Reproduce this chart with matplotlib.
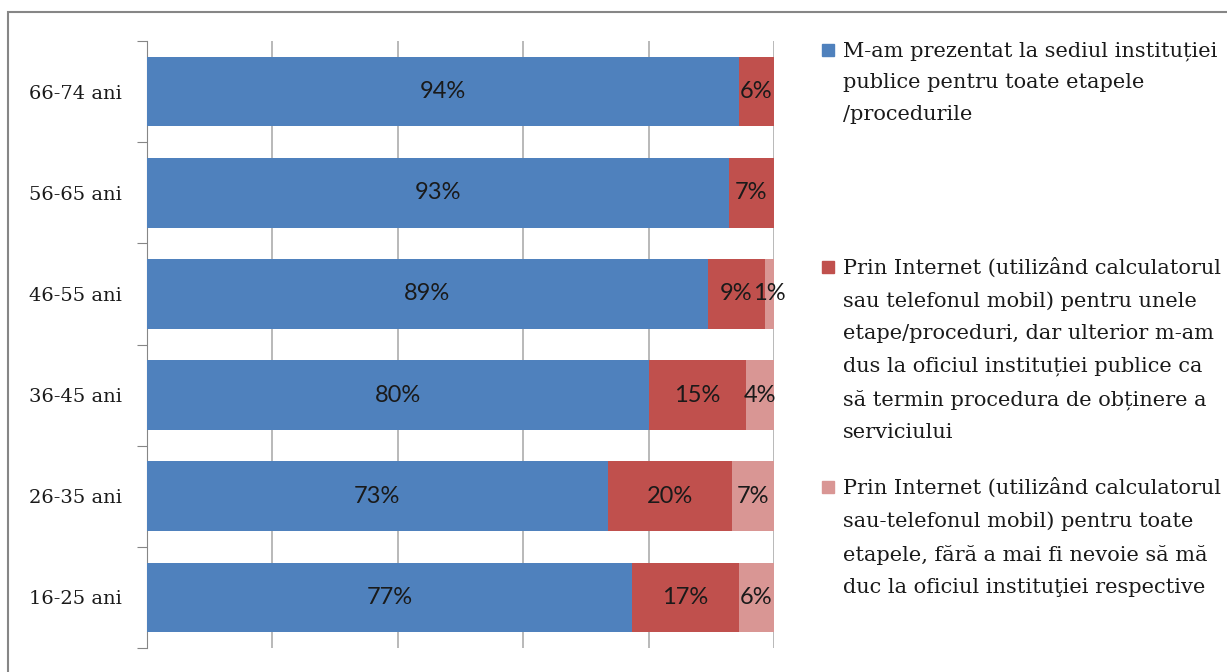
import matplotlib.pyplot as plt
from matplotlib.patches import Rectangle
import numpy as np

categories = ["16-25 ani", "26-35 ani", "36-45 ani", "46-55 ani", "56-65 ani", "66-74 ani"]
sediu = [77.4, 73.5, 80.1, 89.4, 92.8, 94.4]
partial = [17.0, 19.8, 15.4, 9.2, 7.2, 5.6]
complet = [5.6, 6.7, 4.5, 1.4, 0.0, 0.0]
labels_sediu = ["77%", "73%", "80%", "89%", "93%", "94%"]
labels_partial = ["17%", "20%", "15%", "9%", "7%", "6%"]
labels_complet = ["6%", "7%", "4%", "1%", "", ""]

legend_texts = [
    "M-am prezentat la sediul instituției\npublice pentru toate etapele\n/procedurile",
    "Prin Internet (utilizând calculatorul\nsau telefonul mobil) pentru unele\netape/proceduri, dar ulterior m-am\n"
    "dus la oficiul instituției publice ca\nsă termin procedura de obținere a\nserviciului",
    "Prin Internet (utilizând calculatorul\nsau-telefonul mobil) pentru toate\netapele, fără a mai fi nevoie să mă\n"
    "duc la oficiul instituţiei respective",
]
colors = ["#4F81BD", "#C0504D", "#D99694"]

W, H = 1227, 672
fig = plt.figure(figsize=(W / 100, H / 100), dpi=100)
ax = fig.add_axes([147 / W, 1 - 648 / H, (774 - 147) / W, (648 - 41) / H])

# outer chart border
fig.patches.append(Rectangle((8 / W, -0.05), 1.1, 1 - 12 / H + 0.05, transform=fig.transFigure,
                             fill=False, edgecolor="#868686", linewidth=1.5))

y = np.arange(len(categories))
series = [sediu, partial, complet]
series_labels = [labels_sediu, labels_partial, labels_complet]
left = np.zeros(len(categories))
for vals, labs, col in zip(series, series_labels, colors):
    vals = np.array(vals)
    bars = ax.barh(y, vals, left=left, height=0.69, color=col, zorder=3)
    for b, lab in zip(bars, labs):
        if lab:
            ax.text(b.get_x() + b.get_width() / 2, b.get_y() + b.get_height() / 2, lab,
                    ha="center", va="center", fontsize=17, family="Lato", color="#1a1a1a", zorder=4)
    left += vals

ax.set_xlim(0, 100)
ax.set_ylim(-0.5, len(categories) - 0.5)
ax.set_xticks(np.arange(0, 101, 20))
ax.xaxis.grid(True, color="#A6A6A6", linewidth=1.1, zorder=0)
ax.tick_params(axis="x", length=0, labelbottom=False)
ax.set_yticks(np.arange(-0.5, len(categories), 1))
ax.set_yticklabels([])
ax.tick_params(axis="y", which="major", length=7, color="#868686", direction="out")
ax.set_yticks(y, minor=True)
ax.set_yticklabels(categories, minor=True, fontsize=14, family="DejaVu Serif", color="#1a1a1a")
ax.tick_params(axis="y", which="minor", length=0, pad=18)
for s in ["top", "right", "bottom"]:
    ax.spines[s].set_visible(False)
ax.spines["left"].set_color("#868686")

# legend entries
legend_y = [50, 267, 487]
for txt, col, ly in zip(legend_texts, colors, legend_y):
    fig.patches.append(Rectangle((822 / W, 1 - (ly + 6) / H), 12 / W, 12 / H,
                                 transform=fig.transFigure, color=col))
    fig.text(843 / W, 1 - (ly - 9) / H, txt, ha="left", va="top", fontsize=15,
             family="DejaVu Serif", linespacing=1.86, color="#1a1a1a")

fig.savefig("out.png", dpi=100)
